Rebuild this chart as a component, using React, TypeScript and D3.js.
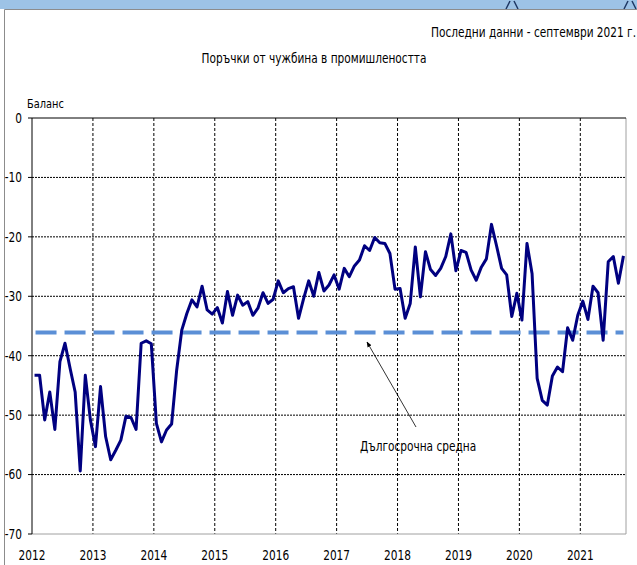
import React from "react";
import * as d3 from "d3";

// monthly balance, Jan 2012 .. Sep 2021
const years = [2012, 2013, 2014, 2015, 2016, 2017, 2018, 2019, 2020, 2021];
const orders = [
  // 2012
  -43.3, -43.3, -50.8, -46.1, -52.4, -41.0, -37.9, -42.1, -46.1, -59.4, -43.3, -50.8,
  // 2013
  -55.3, -45.2, -53.6, -57.5, -55.9, -54.2, -50.2, -50.4, -52.4, -37.9, -37.5, -38.0,
  // 2014
  -51.4, -54.5, -52.5, -51.5, -42.4, -35.7, -32.9, -30.6, -31.8, -28.3, -32.3, -33.0,
  // 2015
  -31.9, -34.5, -29.2, -33.2, -29.8, -31.5, -30.9, -33.2, -32.0, -29.4, -31.2, -30.5,
  // 2016
  -27.4, -29.4, -28.7, -28.4, -33.7, -30.4, -27.4, -30.0, -26.0, -29.1, -28.1, -26.4,
  // 2017
  -28.8, -25.3, -26.7, -24.9, -23.9, -21.5, -22.3, -20.1, -21.0, -21.1, -22.8, -28.8,
  // 2018
  -28.7, -33.7, -31.2, -21.7, -30.1, -22.5, -25.5, -26.5, -25.3, -23.3, -19.5, -25.7,
  // 2019
  -22.3, -22.6, -25.6, -27.3, -25.1, -23.7, -17.9, -21.5, -25.3, -26.4, -33.4, -29.5,
  // 2020
  -34.0, -21.1, -26.2, -43.8, -47.5, -48.3, -43.4, -41.9, -42.7, -35.3, -37.4, -33.2,
  // 2021
  -30.8, -33.9, -28.3, -29.4, -37.4, -24.2, -23.3, -27.8, -23.2,
];
const longTermMean = -36.1;
const yTicks = [0, -10, -20, -30, -40, -50, -60, -70];

const W = 637;
const H = 565;
const margin = { left: 32, right: 11, top: 118, bottom: 31 };
const font = "'DejaVu Sans Condensed', 'DejaVu Sans', sans-serif";
const squeeze = 0.84;

// narrow text, like the original's compressed labels
function T({ x, y, anchor = "start", size = 14, dy, children }: any) {
  return (
    <text
      transform={`translate(${x},${y}) scale(${squeeze},1)`}
      dy={dy}
      textAnchor={anchor}
      fontFamily={font}
      fontSize={size}
      fill="#000"
    >
      {children}
    </text>
  );
}

export default function App() {
  const x = d3
    .scaleLinear()
    .domain([-0.5, orders.length - 0.5])
    .range([margin.left, W - margin.right]);
  const y = d3
    .scaleLinear()
    .domain([-70, 0])
    .range([H - margin.bottom, margin.top]);

  const line = d3
    .line<number>()
    .x((d, i) => x(i))
    .y((d) => y(d));

  const yearX = (k: number) => x(k * 12 - 0.5);
  const x0 = margin.left;
  const x1 = W - margin.right;
  const yTop = y(0);
  const yBot = y(-70);

  const arrowTip = { x: 367, y: 342 };
  const arrowEnd = { x: 416, y: 427 };

  return (
    <div style={{ position: "fixed", left: 0, top: 0 }}>
      <svg width={W} height={H} style={{ display: "block", background: "#fff" }}>
        <defs>
          <marker id="ah" viewBox="0 0 10 10" refX="9" refY="5" markerWidth="7" markerHeight="7" orient="auto">
            <path d="M0,1 L10,5 L0,9 z" fill="#000" />
          </marker>
        </defs>
        {/* header band */}
        <rect x={0} y={0} width={W} height={9} fill="#9dc3e6" />
        <path d="M506,9 L510,1 M514,1 L518,9 M624,9 L628,1 M632,1 L636,9" stroke="#1f3864" strokeWidth={1.5} />
        <line x1={4.5} y1={9.5} x2={W} y2={9.5} stroke="#8c8c8c" />
        <line x1={4.5} y1={9.5} x2={4.5} y2={H} stroke="#8c8c8c" />

        <T x={636} y={37} anchor="end">Последни данни - септември 2021 г.</T>
        <T x={314} y={63} anchor="middle">Поръчки от чужбина в промишлеността</T>
        <T x={27} y={108} size={13}>Баланс</T>

        {/* grid */}
        {yTicks.slice(1, -1).map((t) => (
          <line key={t} x1={x0} x2={x1} y1={y(t)} y2={y(t)} stroke="#000" strokeWidth={1} strokeDasharray="2,1" />
        ))}
        {years.slice(1).map((yr, k) => (
          <line key={yr} x1={yearX(k + 1)} x2={yearX(k + 1)} y1={yTop} y2={yBot} stroke="#000" strokeWidth={1} strokeDasharray="3,2" />
        ))}

        {/* frame */}
        <line x1={x1} x2={x1} y1={yTop} y2={yBot} stroke="#a0a0a0" />
        <line x1={x0} x2={x1} y1={yBot} y2={yBot} stroke="#a0a0a0" />
        <line x1={x0} x2={x1} y1={yTop} y2={yTop} stroke="#000" />
        <line x1={x0} x2={x0} y1={yTop} y2={yBot} stroke="#000" />

        {yTicks.map((t) => (
          <g key={t}>
            <line x1={x0 - 4} x2={x0} y1={y(t)} y2={y(t)} stroke="#000" />
            <T x={x0 - 10} y={y(t)} dy="0.35em" anchor="end">{t}</T>
          </g>
        ))}
        {years.map((yr, k) => (
          <T key={yr} x={yearX(k)} y={560} anchor="middle">{yr}</T>
        ))}

        {/* long-term mean */}
        <line
          x1={x(0) + 1}
          x2={x(orders.length - 1)}
          y1={y(longTermMean)}
          y2={y(longTermMean)}
          stroke="#5b8fd6"
          strokeWidth={4}
          strokeDasharray="21,8"
        />

        <path d={line(orders) || ""} fill="none" stroke="#000080" strokeWidth={3} strokeLinejoin="round" />

        {/* annotation */}
        <line
          x1={arrowEnd.x}
          y1={arrowEnd.y}
          x2={arrowTip.x}
          y2={arrowTip.y}
          stroke="#000"
          strokeWidth={0.8}
          markerEnd="url(#ah)"
        />
        <T x={360} y={451}>Дългосрочна средна</T>
      </svg>
    </div>
  );
}
